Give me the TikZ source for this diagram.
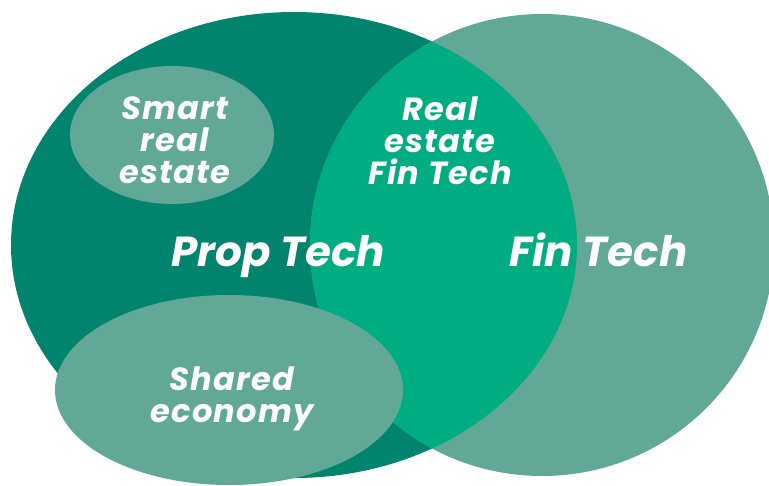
\documentclass[tikz,border=0pt]{standalone}
\usepackage{fontspec}
\setmainfont{Poppins}
\definecolor{propdark}{HTML}{00846E}
\definecolor{finlight}{HTML}{61A896}
\definecolor{overlap}{HTML}{00AD82}
\begin{document}
\begin{tikzpicture}[x=1pt,y=-1pt,
label/.style={text=white,align=center,inner sep=0pt},
small/.style={label,font=\fontsize{32}{32}\selectfont\bfseries\itshape\addfontfeatures{LetterSpace=4}},
big/.style={label,anchor=base,font=\fontsize{42}{44}\selectfont\bfseries\itshape}
]
\useasboundingbox (0,0) rectangle (769,485);
\clip (0,0) rectangle (769,485);
% the two sets
\fill[propdark] (294,245) ellipse [x radius=283,y radius=233];
\fill[finlight] (542,245) ellipse [x radius=232,y radius=231];
\begin{scope}
\clip (294,245) ellipse [x radius=283,y radius=233];
\fill[overlap] (542,245) ellipse [x radius=232,y radius=231];
\end{scope}
% subsets of prop tech
\fill[finlight] (172,135) ellipse [x radius=102,y radius=69];
\fill[finlight] (229,390) ellipse [x radius=174,y radius=95];
% labels
\node[big] (prop) at (278.5,266) {Prop Tech};
\node[big] (fin) at (598.5,266) {Fin Tech};
\node[small] (refin) at (440,141) {Real\\estate\\Fin Tech};
\node[small] (smart) at (175,140) {Smart\\real\\estate};
\node[small] (shared) at (232,399) {Shared\\economy};
\end{tikzpicture}
\end{document}
